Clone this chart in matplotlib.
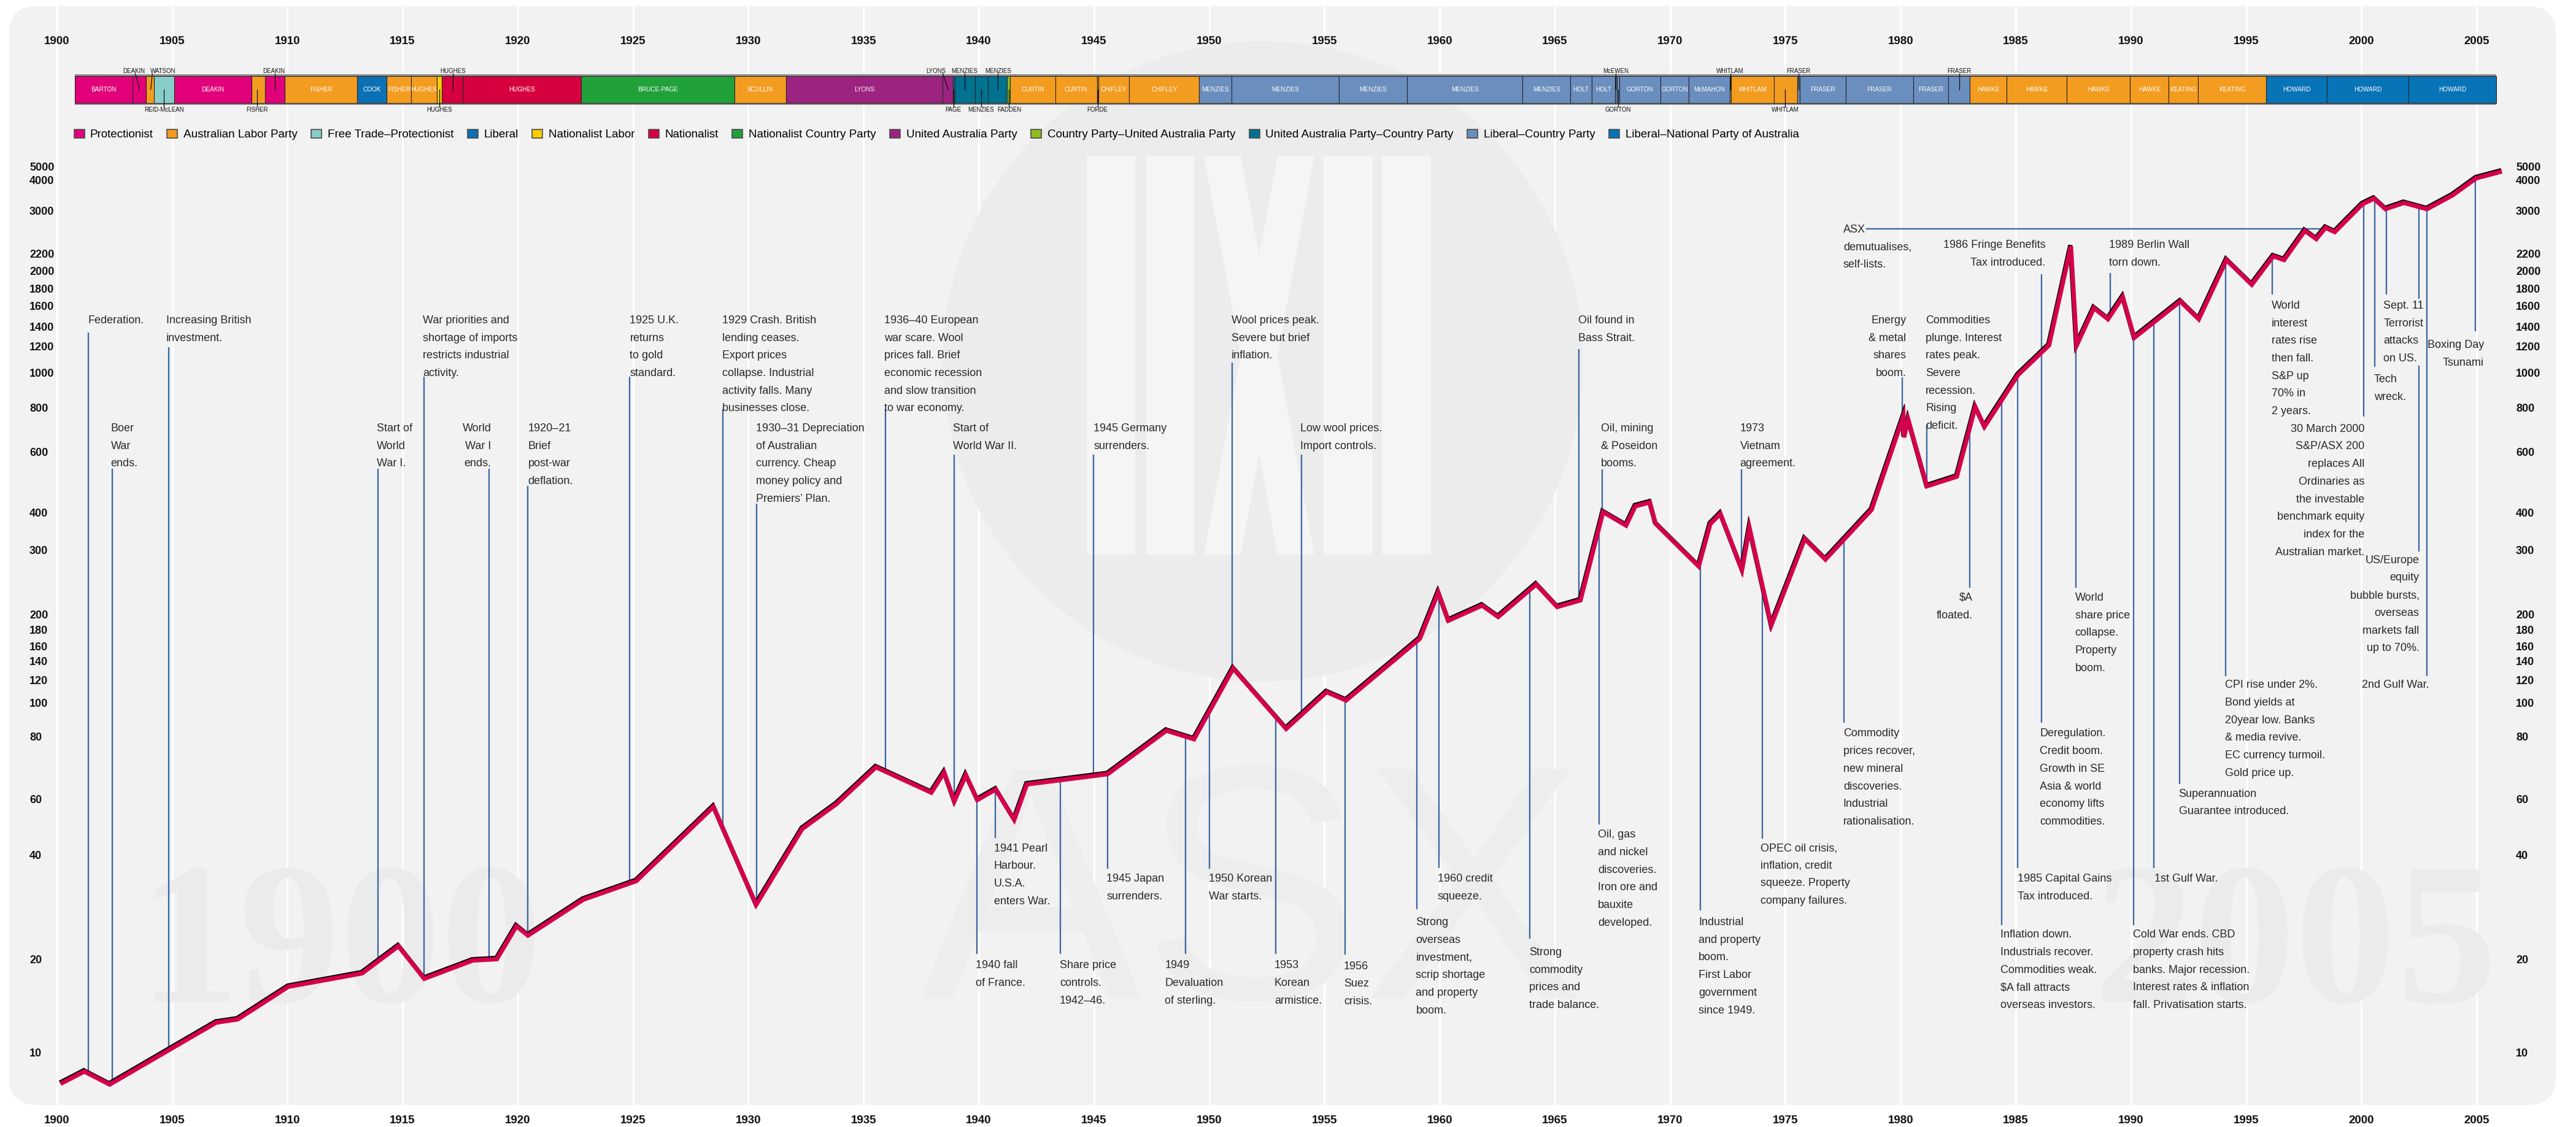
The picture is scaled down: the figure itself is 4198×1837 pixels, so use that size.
import numpy as np
import matplotlib
matplotlib.use('Agg')
import matplotlib.pyplot as plt
from matplotlib.patches import Rectangle, Circle, FancyBboxPatch, Patch, Polygon
import matplotlib.patheffects as pe

# All Ordinaries index
years = [1900.24, 1901.19, 1902.29, 1906.91, 1907.84, 1910.04, 1913.24, 1914.82, 1915.94,
         1918.04, 1919.09, 1919.94, 1920.44, 1922.84, 1925.14, 1928.49, 1930.34, 1932.34,
         1933.82, 1935.54, 1937.94, 1938.50, 1938.94, 1939.44, 1939.94, 1940.74, 1941.54,
         1942.09, 1945.59, 1948.14, 1949.34, 1951.04, 1953.34, 1955.09, 1955.94, 1959.14,
         1959.94, 1960.38, 1961.84, 1962.54, 1964.19, 1965.10, 1966.11, 1967.09, 1968.09,
         1968.49, 1969.12, 1969.37, 1971.24, 1971.74, 1972.18, 1973.12, 1973.44,
         1974.39, 1975.84, 1976.74, 1978.74, 1980.12, 1980.15, 1980.33, 1981.14, 1982.44,
         1983.24, 1983.64, 1985.10, 1986.44, 1987.39, 1987.64, 1988.39, 1989.00, 1989.64,
         1990.14, 1992.14, 1992.94, 1994.14, 1995.24, 1996.17, 1996.64, 1997.54, 1998.04,
         1998.44, 1998.84, 2000.04, 2000.54, 2001.04, 2001.84, 2002.84, 2003.94, 2004.98,
         2006.00]
index = [8.0, 8.7, 7.9, 12.5, 12.8, 16.3, 18.0, 21.8, 17.3,
         19.8, 20.0, 24.9, 23.4, 29.7, 33.6, 56.7, 28.7, 48.3,
         57.8, 69.5, 61.8, 67.8, 59.0, 67.0, 59.6, 62.7, 51.6,
         64.2, 67.3, 83.3, 79.1, 132, 84.3, 109, 102, 169,
         230, 192, 212, 197, 242, 210, 219, 401, 362,
         417, 428, 367, 271, 366, 396, 265, 356,
         186, 327, 283, 407, 756, 660, 741, 477, 509,
         803, 707, 985, 1210, 2321, 1210, 1581, 1471, 1702,
         1284, 1653, 1471, 2126, 1844, 2170, 2126, 2600, 2449,
         2658, 2576, 3197, 3365, 3055, 3236, 3055, 3464, 4114,
         4571]

# y axis of the original is hand drawn: tick values and where they sit (rows of a 686 px tall view)
tick_vals = [10, 20, 40, 60, 80, 100, 120, 140, 160, 180, 200, 300, 400, 600, 800,
             1000, 1200, 1400, 1600, 1800, 2000, 2200, 3000, 4000, 5000]
tick_rows = [641.0, 584.0, 520.5, 486.5, 448.6, 428.0, 414.0, 402.7, 393.5, 383.6, 374.3,
             335.0, 312.0, 275.3, 248.2, 226.8, 210.9, 199.0, 186.4, 175.8, 165.0, 154.5,
             128.5, 109.5, 101.5]

parties = {
    'P': ('Protectionist', '#e2007a'),
    'ALP': ('Australian Labor Party', '#f39c1f'),
    'FTP': ('Free Trade–Protectionist', '#87cdc9'),
    'LIB': ('Liberal', '#0b70b4'),
    'NL': ('Nationalist Labor', '#ffcc00'),
    'NAT': ('Nationalist', '#d6003f'),
    'NCP': ('Nationalist Country Party', '#21a13a'),
    'UAP': ('United Australia Party', '#9c237f'),
    'CPUAP': ('Country Party–United Australia Party', '#8bbd1a'),
    'UAPCP': ('United Australia Party–Country Party', '#00718f'),
    'LCP': ('Liberal–Country Party', '#6a8ebe'),
    'LNP': ('Liberal–National Party of Australia', '#0674b6'),
}

# prime ministers strip: start, end, label inside bar, party
terms = [
    (1900.79, 1903.29, 'BARTON', 'P'), (1903.29, 1903.88, '', 'P'), (1903.88, 1904.21, '', 'ALP'),
    (1904.21, 1905.09, '', 'FTP'), (1905.09, 1908.44, 'DEAKIN', 'P'), (1908.44, 1909.04, '', 'ALP'),
    (1909.04, 1909.89, '', 'P'), (1909.89, 1913.04, 'FISHER', 'ALP'), (1913.04, 1914.31, 'COOK', 'LIB'),
    (1914.31, 1915.38, 'FISHER', 'ALP'), (1915.38, 1916.48, 'HUGHES', 'ALP'), (1916.48, 1916.69, '', 'NL'),
    (1916.69, 1917.62, '', 'NAT'), (1917.62, 1922.74, 'HUGHES', 'NAT'), (1922.74, 1929.41, 'BRUCE-PAGE', 'NCP'),
    (1929.41, 1931.64, 'SCULLIN', 'ALP'), (1931.64, 1938.44, 'LYONS', 'UAP'), (1938.44, 1938.87, '', 'UAP'),
    (1938.87, 1938.97, '', 'UAPCP'), (1938.97, 1939.84, '', 'UAPCP'), (1939.84, 1940.39, '', 'UAPCP'),
    (1940.39, 1941.22, '', 'UAPCP'), (1941.22, 1941.37, '', 'CPUAP'), (1941.37, 1943.32, 'CURTIN', 'ALP'),
    (1943.32, 1945.14, 'CURTIN', 'ALP'), (1945.14, 1945.19, '', 'ALP'), (1945.19, 1946.53, 'CHIFLEY', 'ALP'),
    (1946.53, 1949.57, 'CHIFLEY', 'ALP'), (1949.57, 1950.97, 'MENZIES', 'LCP'), (1950.97, 1955.64, 'MENZIES', 'LCP'),
    (1955.64, 1958.58, 'MENZIES', 'LCP'), (1958.58, 1963.60, 'MENZIES', 'LCP'), (1963.60, 1965.66, 'MENZIES', 'LCP'),
    (1965.66, 1966.59, 'HOLT', 'LCP'), (1966.59, 1967.61, 'HOLT', 'LCP'), (1967.61, 1967.70, '', 'LCP'),
    (1967.70, 1967.79, '', 'LCP'), (1967.79, 1969.58, 'GORTON', 'LCP'), (1969.58, 1970.82, 'GORTON', 'LCP'),
    (1970.82, 1972.58, 'McMAHON', 'LCP'), (1972.58, 1972.64, '', 'ALP'), (1972.64, 1974.50, 'WHITLAM', 'ALP'),
    (1974.50, 1975.53, '', 'ALP'), (1975.53, 1975.62, '', 'LCP'), (1975.62, 1977.62, 'FRASER', 'LCP'),
    (1977.62, 1980.54, 'FRASER', 'LCP'), (1980.54, 1982.06, 'FRASER', 'LCP'), (1982.06, 1983.01, '', 'LCP'),
    (1983.01, 1984.60, 'HAWKE', 'ALP'), (1984.60, 1987.22, 'HAWKE', 'ALP'), (1987.22, 1989.96, 'HAWKE', 'ALP'),
    (1989.96, 1991.64, 'HAWKE', 'ALP'), (1991.64, 1992.90, 'KEATING', 'ALP'), (1992.90, 1995.87, 'KEATING', 'ALP'),
    (1995.87, 1998.49, 'HOWARD', 'LNP'), (1998.49, 2002.04, 'HOWARD', 'LNP'), (2002.04, 2005.84, 'HOWARD', 'LNP'),
]

# names for the thin terms: label, label x, leader top x, leader bottom x, side
pm_callouts = [
    ('DEAKIN', 1903.35, 1903.40, 1903.59, 'up'), ('WATSON', 1904.60, 1904.14, 1904.07, 'up'),
    ('REID-McLEAN', 1904.64, 1904.64, 1904.64, 'down'), ('FISHER', 1908.70, 1908.70, 1908.70, 'down'),
    ('DEAKIN', 1909.42, 1909.47, 1909.47, 'up'), ('HUGHES', 1917.17, 1917.17, 1917.17, 'up'),
    ('HUGHES', 1916.59, 1916.59, 1916.59, 'down'), ('LYONS', 1938.14, 1938.44, 1938.68, 'up'),
    ('PAGE', 1938.88, 1938.92, 1938.92, 'down'), ('MENZIES', 1939.37, 1939.40, 1939.40, 'up'),
    ('MENZIES', 1940.10, 1940.10, 1940.10, 'down'), ('MENZIES', 1940.85, 1940.82, 1940.82, 'up'),
    ('FADDEN', 1941.33, 1941.30, 1941.30, 'down'), ('FORDE', 1945.15, 1945.16, 1945.16, 'down'),
    ('McEWEN', 1967.64, 1967.65, 1967.65, 'up'), ('GORTON', 1967.73, 1967.74, 1967.74, 'down'),
    ('WHITLAM', 1972.61, 1972.61, 1972.61, 'up'), ('WHITLAM', 1975.00, 1975.00, 1975.00, 'down'),
    ('FRASER', 1975.58, 1975.58, 1975.58, 'up'), ('FRASER', 1982.55, 1982.55, 1982.55, 'up'),
]

# events: text, text x, text top (axes fraction), alignment, leader x, leader end (axes fraction)
events = [
    ('Federation.', 1901.34, 0.7186, 'left', 1901.37, 0.7032),
    ('Boer\nWar\nends.', 1902.34, 0.6204, 'left', 1902.39, 0.5790),
    ('Increasing British\ninvestment.', 1904.74, 0.7186, 'left', 1904.84, 0.6897),
    ('Start of\nWorld\nWar I.', 1913.88, 0.6204, 'left', 1913.94, 0.5790),
    ('War priorities and\nshortage of imports\nrestricts industrial\nactivity.', 1915.88, 0.7186, 'left', 1915.92, 0.6625),
    ('World\nWar I\nends.', 1918.84, 0.6204, 'right', 1918.76, 0.5790),
    ('1920–21\nBrief\npost-war\ndeflation.', 1920.44, 0.6204, 'left', 1920.44, 0.5631),
    ('1925 U.K.\nreturns\nto gold\nstandard.', 1924.86, 0.7186, 'left', 1924.86, 0.6625),
    ('1929 Crash. British\nlending ceases.\nExport prices\ncollapse. Industrial\nactivity falls. Many\nbusinesses close.',
     1928.87, 0.7186, 'left', 1928.89, 0.6334),
    ('1930–31 Depreciation\nof Australian\ncurrency. Cheap\nmoney policy and\nPremiers’ Plan.',
     1930.34, 0.6204, 'left', 1930.37, 0.5473),
    ('1936–40 European\nwar scare. Wool\nprices fall. Brief\neconomic recession\nand slow transition\nto war economy.',
     1935.90, 0.7186, 'left', 1935.94, 0.6334),
    ('Start of\nWorld War II.', 1938.89, 0.6204, 'left', 1938.93, 0.5918),
    ('1945 Germany\nsurrenders.', 1944.98, 0.6204, 'left', 1944.98, 0.5918),
    ('Wool prices peak.\nSevere but brief\ninflation.', 1950.97, 0.7186, 'left', 1950.99, 0.6754),
    ('Low wool prices.\nImport controls.', 1953.96, 0.6204, 'left', 1954.01, 0.5918),
    ('Oil found in\nBass Strait.', 1966.02, 0.7186, 'left', 1966.04, 0.6881),
    ('Oil, mining\n& Poseidon\nbooms.', 1967.00, 0.6204, 'left', 1967.06, 0.5787),
    ('1973\nVietnam\nagreement.', 1973.03, 0.6204, 'left', 1973.09, 0.5787),
    ('1986 Fringe Benefits\nTax introduced.', 1986.29, 0.7872, 'right', 1986.13, 0.7561),
    ('1989 Berlin Wall\ntorn down.', 1989.04, 0.7872, 'left', 1989.10, 0.7573),
    ('Energy\n& metal\nshares\nboom.', 1980.24, 0.7186, 'right', 1980.08, 0.6622),
    ('Commodities\nplunge. Interest\nrates peak.\nSevere\nrecession.\nRising\ndeficit.', 1981.09, 0.7186, 'left', 1981.13, 0.6193),
    ('$A\nfloated.', 1983.13, 0.4663, 'right', 1983.01, 0.4708),
    ('Commodity\nprices recover,\nnew mineral\ndiscoveries.\nIndustrial\nrationalisation.', 1977.51, 0.3426, 'left', 1977.54, 0.3479),
    ('OPEC oil crisis,\ninflation, credit\nsqueeze. Property\ncompany failures.', 1973.93, 0.2384, 'left', 1974.00, 0.2424),
    ('Inflation down.\nIndustrials recover.\nCommodities weak.\n$A fall attracts\noverseas investors.', 1984.33, 0.1596, 'left', 1984.39, 0.1635),
    ('1985 Capital Gains\nTax introduced.', 1985.07, 0.2104, 'left', 1985.07, 0.2158),
    ('Deregulation.\nCredit boom.\nGrowth in SE\nAsia & world\neconomy lifts\ncommodities.', 1986.04, 0.3426, 'left', 1986.13, 0.3479),
    ('World\nshare price\ncollapse.\nProperty\nboom.', 1987.57, 0.4663, 'left', 1987.62, 0.4708),
    ('Cold War ends. CBD\nproperty crash hits\nbanks. Major recession.\nInterest rates & inflation\nfall. Privatisation starts.',
     1990.08, 0.1596, 'left', 1990.12, 0.1635),
    ('1st Gulf War.', 1991.02, 0.2104, 'left', 1990.99, 0.2158),
    ('Superannuation\nGuarantee introduced.', 1992.07, 0.2878, 'left', 1992.12, 0.2919),
    ('CPI rise under 2%.\nBond yields at\n20year low. Banks\n& media revive.\nEC currency turmoil.\nGold price up.',
     1994.09, 0.3868, 'left', 1994.10, 0.3902),
    ('World\ninterest\nrates rise\nthen fall.\nS&P up\n70% in\n2 years.', 1996.09, 0.7320, 'left', 1996.12, 0.7374),
    ('30 March 2000\nS&P/ASX 200\nreplaces All\nOrdinaries as\nthe investable\nbenchmark equity\nindex for the\nAustralian market.',
     2000.14, 0.6199, 'right', 2000.09, 0.6267),
    ('Tech\nwreck.', 2000.55, 0.6649, 'left', 2000.58, 0.6718),
    ('US/Europe\nequity\nbubble bursts,\noverseas\nmarkets fall\nup to 70%.', 2002.51, 0.5004, 'right', 2002.49, 0.5034),
    ('Sept. 11\nTerrorist\nattacks\non US.', 2000.96, 0.7320, 'left', 2001.09, 0.7374),
    ('2nd Gulf War.', 2002.94, 0.3868, 'right', 2002.84, 0.3902),
    ('Boxing Day\nTsunami', 2005.31, 0.6961, 'right', 2004.94, 0.7038),
    ('1956\nSuez\ncrisis.', 1955.84, 0.1308, 'left', 1955.90, 0.1370),
    ('Strong\noverseas\ninvestment,\nscrip shortage\nand property\nboom.', 1958.97, 0.1708, 'left', 1959.01, 0.1781),
    ('1960 credit\nsqueeze.', 1959.91, 0.2104, 'left', 1959.97, 0.2155),
    ('Strong\ncommodity\nprices and\ntrade balance.', 1963.89, 0.1436, 'left', 1963.91, 0.1514),
    ('Oil, gas\nand nickel\ndiscoveries.\nIron ore and\nbauxite\ndeveloped.', 1966.86, 0.2505, 'left', 1966.91, 0.2553),
    ('Industrial\nand property\nboom.\nFirst Labor\ngovernment\nsince 1949.', 1971.24, 0.1708, 'left', 1971.31, 0.1769),
    ('1941 Pearl\nHarbour.\nU.S.A.\nenters War.', 1940.66, 0.2381, 'left', 1940.72, 0.2429),
    ('1940 fall\nof France.', 1939.87, 0.1315, 'left', 1939.93, 0.1376),
    ('Share price\ncontrols.\n1942–46.', 1943.51, 0.1315, 'left', 1943.55, 0.1376),
    ('1945 Japan\nsurrenders.', 1945.55, 0.2104, 'left', 1945.59, 0.2151),
    ('1949\nDevaluation\nof sterling.', 1948.08, 0.1315, 'left', 1948.98, 0.1376),
    ('1950 Korean\nWar starts.', 1949.99, 0.2104, 'left', 1950.02, 0.2151),
    ('1953\nKorean\narmistice.', 1952.83, 0.1315, 'left', 1952.89, 0.1376),
]

LOG_T = np.log10(np.array(tick_vals, float))
ROW_T = np.array(tick_rows)


def fwd(v):
    lv = np.log10(np.clip(np.asarray(v, float), 1e-6, None))
    r = np.interp(lv, LOG_T, ROW_T)
    r = np.where(lv < LOG_T[0], ROW_T[0] + (LOG_T[0] - lv) * 189.0, r)
    r = np.where(lv > LOG_T[-1], ROW_T[-1] - (lv - LOG_T[-1]) * 190.0, r)
    return -r


def inv(p):
    r = -np.asarray(p, float)
    lv = np.interp(r, ROW_T[::-1], LOG_T[::-1])
    lv = np.where(r > ROW_T[0], LOG_T[0] - (r - ROW_T[0]) / 189.0, lv)
    lv = np.where(r < ROW_T[-1], LOG_T[-1] + (ROW_T[-1] - r) / 190.0, lv)
    return 10 ** lv


SANS = ['Liberation Sans', 'DejaVu Sans']
NARROW = ['Liberation Sans Narrow', 'Liberation Sans', 'DejaVu Sans']
TXT = '#2a2a2a'
LEAD = '#3f6aa2'
RED = '#d4004c'
PANEL = '#f2f2f2'
WMARK = '#ebebeb'

fig = plt.figure(figsize=(41.98, 18.37), dpi=100, facecolor='white')
panel = FancyBboxPatch((0.15, 0.36), 41.50, 17.91, boxstyle='round,pad=0,rounding_size=0.45',
                       transform=fig.dpi_scale_trans, fc=PANEL, ec='none', zorder=-5)
fig.add_artist(panel)

ax = fig.add_axes([15 / 4198, 1 - 1801 / 1837, 4150 / 4198, 1791 / 1837])
ax.patch.set_visible(False)
for s in ax.spines.values():
    s.set_visible(False)
ax.set_yscale('function', functions=(fwd, inv))
ylo, yhi = float(inv(-672.8)), float(inv(-3.74))
ax.set_ylim(ylo, yhi)
ax.set_xlim(1897.93, 2008.43)

# year grid and labels
ax.set_xticks(range(1900, 2006, 5))
ax.set_xticklabels([str(y) for y in range(1900, 2006, 5)], fontsize=13.5, fontweight='bold', family=SANS)
ax.tick_params(axis='x', length=0, pad=12, colors='#111111')
ax.grid(axis='x', color='white', lw=2.3)
ax.set_axisbelow(True)
xt = ax.get_xaxis_transform()
for y in range(1900, 2006, 5):
    ax.text(y, 0.9679, str(y), transform=xt, ha='center', va='center', fontsize=13.5,
            fontweight='bold', family=SANS, color='#111111')

ax.set_yticks(tick_vals)
ax.set_yticklabels([str(v) for v in tick_vals], fontsize=13, fontweight='bold', family=SANS, ha='left')
ax.yaxis.set_minor_locator(matplotlib.ticker.NullLocator())
ax.tick_params(axis='y', length=0, pad=-23.8, colors='#111111')

ax2 = ax.twinx()
ax2.patch.set_visible(False)
for s in ax2.spines.values():
    s.set_visible(False)
ax2.set_yscale('function', functions=(fwd, inv))
ax2.set_ylim(ylo, yhi)
ax2.set_yticks(tick_vals)
ax2.set_yticklabels([str(v) for v in tick_vals], fontsize=13, fontweight='bold', family=SANS)
ax2.yaxis.set_minor_locator(matplotlib.ticker.NullLocator())
ax2.tick_params(axis='y', length=0, pad=-46.8, colors='#111111')

# faint ASX watermark: disc with the logo bars, plus big background type
dpi_t = fig.dpi_scale_trans
disc = Circle((20.58, 12.48), 5.22, transform=dpi_t, fc='#ececec', ec='none', zorder=0.8)
ax.add_patch(disc)


def px(x, y):
    return (x / 100.0, (1837 - y) / 100.0)


logo_shapes = [
    [px(1771, 254), px(1850, 254), px(1850, 904), px(1771, 904)],
    [px(1868, 254), px(1947, 254), px(1947, 904), px(1868, 904)],
    [px(1962, 254), px(2022, 254), px(2142, 904), px(2082, 904)],
    [px(2082, 254), px(2142, 254), px(2022, 904), px(1962, 904)],
    [px(2157, 254), px(2237, 254), px(2237, 904), px(2157, 904)],
    [px(2252, 254), px(2332, 254), px(2332, 904), px(2252, 904)],
]
for pts in logo_shapes:
    shape = Polygon(pts, closed=True, transform=dpi_t, fc='#f5f5f5', ec='none', zorder=0.85)
    ax.add_patch(shape)
    shape.set_clip_path(disc)

ax.text(20.41, 2.10, 'ASX', transform=dpi_t, ha='center', va='baseline', fontsize=390,
        family=NARROW, color='#ededed', zorder=0.8)
ax.text(5.55, 2.04, '1900', transform=dpi_t, ha='center', va='baseline', fontsize=237,
        fontweight='bold', family=['Liberation Serif', 'DejaVu Serif'], color=WMARK, zorder=0.8)
ax.text(37.40, 2.04, '2005', transform=dpi_t, ha='center', va='baseline', fontsize=237,
        fontweight='bold', family=['Liberation Serif', 'DejaVu Serif'], color=WMARK, zorder=0.8)

# prime minister strip
t0, t1 = terms[0][0], terms[-1][1]
ax.add_patch(Rectangle((t0, 0.9101), t1 - t0, 0.0279, transform=xt, fc='#8f8f8f', ec='none', zorder=6))
for a, b, name, code in terms:
    ax.add_patch(Rectangle((a, 0.9118), b - a, 0.0246, transform=xt, fc=parties[code][1],
                           ec='#262626', lw=0.8, zorder=7))
    if name:
        ax.text((a + b) / 2, 0.9241, name, transform=xt, ha='center', va='center', fontsize=7.2,
                family=NARROW, color='white', zorder=8)
for name, lx, x0, x1, side in pm_callouts:
    if side == 'up':
        ax.plot([x0, x1], [0.9386, 0.9241], transform=xt, color='#111111', lw=0.9, zorder=8)
        ax.text(lx, 0.9410, name, transform=xt, ha='center', va='center', fontsize=7,
                family=NARROW, color='#111111', zorder=8)
    else:
        ax.plot([x0, x1], [0.9084, 0.9241], transform=xt, color='#111111', lw=0.9, zorder=8)
        ax.text(lx, 0.9058, name, transform=xt, ha='center', va='center', fontsize=7,
                family=NARROW, color='#111111', zorder=8)

# party legend
handles = [Patch(fc=c, ec='#4a4a4a', lw=1.2) for _, c in parties.values()]
fig.legend(handles, [n for n, _ in parties.values()], loc='center left',
           bbox_to_anchor=(120.5 / 4198, 1 - 219.5 / 1837), ncol=12, frameon=False,
           prop={'family': SANS, 'size': 13.6}, handlelength=0.9, handleheight=0.8,
           handletextpad=0.5, columnspacing=1.2, borderaxespad=0, borderpad=0)

# index line with its black shadow
ax.plot(years, index, color=RED, lw=5.2, solid_joinstyle='miter', zorder=5,
        path_effects=[pe.SimpleLineShadow(offset=(-0.7, 1.3), shadow_color='black', alpha=1.0, rho=1.0),
                      pe.Normal()])

scaled_index = fwd(np.array(index, float))


def on_line(x):
    return float(inv(np.interp(x, years, scaled_index)))


def frac_to_val(f):
    p0, p1 = float(fwd(ylo)), float(fwd(yhi))
    return float(inv(p0 + f * (p1 - p0)))


for text, tx, top, ha, lx, lend in events:
    ax.plot([lx, lx], [on_line(lx), frac_to_val(lend)], color=LEAD, lw=1.7, zorder=3,
            solid_capstyle='butt')
    kw = {}
    if text.startswith('Sept. 11'):
        kw['bbox'] = dict(fc=PANEL, ec='none', pad=2)
    ax.text(tx, top, text, transform=xt, ha=ha, va='top', fontsize=13, linespacing=1.9,
            family=SANS, color=TXT, zorder=6, **kw)

# ASX listing callout with horizontal leader
ax.text(1977.51, 0.8012, 'ASX\ndemutualises,\nself-lists.', transform=xt, ha='left', va='top',
        fontsize=13, linespacing=1.9, family=SANS, color=TXT, zorder=6)
ax.plot([1978.54, 1998.40], [frac_to_val(0.7972)] * 2, color=LEAD, lw=1.7, zorder=3)

fig.savefig('out.png', dpi=100, facecolor='white')
